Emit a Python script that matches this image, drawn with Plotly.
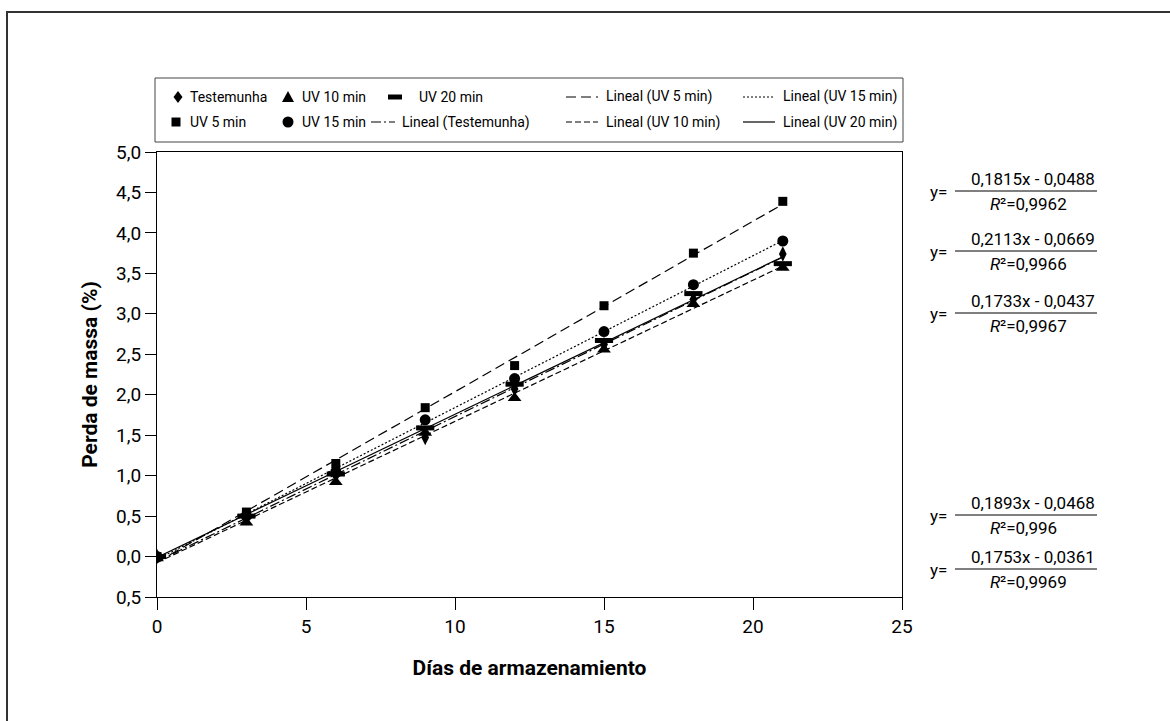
import numpy as np
import plotly.graph_objects as go

# ---------------- data ----------------
dias = [0, 3, 6, 9, 12, 15, 18, 21]
testemunha = [0.00, 0.48, 1.00, 1.47, 2.07, 2.62, 3.18, 3.74]
uv5 = [0.00, 0.55, 1.15, 1.84, 2.36, 3.10, 3.75, 4.39]
uv10 = [-0.02, 0.42, 0.92, 1.53, 1.96, 2.56, 3.12, 3.57]
uv15 = [0.00, 0.50, 1.05, 1.69, 2.20, 2.78, 3.36, 3.90]
uv20 = [0.00, 0.50, 1.02, 1.59, 2.13, 2.67, 3.25, 3.62]

x_ticks = [0, 5, 10, 15, 20, 25]
y_tickvals = [-0.5, 0, 0.5, 1.0, 1.5, 2.0, 2.5, 3.0, 3.5, 4.0, 4.5, 5.0]
y_ticktext = ["0,5", "0,0", "0,5", "1,0", "1,5", "2,0", "2,5", "3,0", "3,5", "4,0", "4,5", "5,0"]

eq_numerators = ["0,1815x - 0,0488", "0,2113x - 0,0669", "0,1733x - 0,0437",
                 "0,1893x - 0,0468", "0,1753x - 0,0361"]
eq_r2 = ["0,9962", "0,9966", "0,9967", "0,996", "0,9969"]

FONT = "Roboto, Liberation Sans, sans-serif"

# ---------------- layout geometry (pixels) ----------------
W, H = 1170, 721
PL, PR, PT, PB = 157, 902, 152, 597


def px(xp):
    return (xp - PL) / (PR - PL)


def py(yp):
    return (PB - yp) / (PB - PT)


fig = go.Figure()

# trend lines (least squares fits of each series)
fit_x = [dias[0], dias[-1]]
DASH = {
    "uv5": "10px,5px",
    "uv15": "2px,2px",
    "test": "10px,3px,2px,3px",
    "uv10": "6px,3px",
    "uv20": "solid",
}
trend_specs = [
    ("Lineal (UV 5 min)", uv5, DASH["uv5"]),
    ("Lineal (UV 15 min)", uv15, DASH["uv15"]),
    ("Lineal (Testemunha)", testemunha, DASH["test"]),
    ("Lineal (UV 10 min)", uv10, DASH["uv10"]),
    ("Lineal (UV 20 min)", uv20, DASH["uv20"]),
]
for name, ys, dash in trend_specs:
    coef = np.polyfit(dias, ys, 1)
    fit_y = np.polyval(coef, fit_x)
    fig.add_trace(go.Scatter(
        x=fit_x, y=fit_y, mode="lines", name=name, showlegend=False,
        line=dict(color="black", width=1.2, dash=dash), hoverinfo="skip"))

# markers
marker_specs = [
    ("Testemunha", testemunha, dict(symbol="diamond-tall", size=11, color="black")),
    ("UV 10 min", uv10, dict(symbol="triangle-up", size=12, color="black")),
    ("UV 20 min", uv20, dict(symbol="line-ew", size=13, color="black",
                             line=dict(color="black", width=5))),
    ("UV 5 min", uv5, dict(symbol="square", size=9, color="black")),
    ("UV 15 min", uv15, dict(symbol="circle", size=11, color="black")),
]
for name, ys, mk in marker_specs:
    fig.add_trace(go.Scatter(x=dias, y=ys, mode="markers", name=name,
                             marker=mk, showlegend=False))

shapes = []
annotations = []
LEGFONT = dict(family=FONT, size=14, color="black")


def add_text(text, xp, yp, font, xanchor="left"):
    annotations.append(dict(text=text, x=px(xp), y=py(yp), xref="paper", yref="paper",
                            showarrow=False, xanchor=xanchor, yanchor="middle",
                            font=font, borderpad=0))


def legend_line(x0, x1, yp, dash):
    shapes.append(dict(type="line", xref="paper", yref="paper",
                       x0=px(x0), x1=px(x1), y0=py(yp), y1=py(yp),
                       line=dict(color="black", width=1.2, dash=dash)))


def legend_path(path, xp, yp):
    shapes.append(dict(type="path", xref="paper", yref="paper",
                       xsizemode="pixel", ysizemode="pixel",
                       xanchor=px(xp), yanchor=py(yp), path=path,
                       fillcolor="black", line=dict(color="black", width=0)))


def legend_box(kind, xp, yp, hw, hh):
    shapes.append(dict(type=kind, xref="paper", yref="paper",
                       xsizemode="pixel", ysizemode="pixel",
                       xanchor=px(xp), yanchor=py(yp),
                       x0=-hw, x1=hw, y0=-hh, y1=hh,
                       fillcolor="black", line=dict(color="black", width=0)))


# ---------------- manual legend ----------------
R1, R2 = 97, 122
legend_path("M0,6 L4.5,0 L0,-6 L-4.5,0 Z", 178, R1)
add_text("Testemunha", 189, R1, LEGFONT)
legend_box("rect", 176, R2, 4.5, 4.5)
add_text("UV 5 min", 189, R2, LEGFONT)

legend_path("M-6,-5 L6,-5 L0,6 Z", 288, R1)
add_text("UV 10 min", 301, R1, LEGFONT)
legend_box("circle", 288, R2, 5.5, 5.5)
add_text("UV 15 min", 301, R2, LEGFONT)

legend_box("rect", 395, R1, 7, 2.5)
add_text("UV 20 min", 418, R1, LEGFONT)
legend_line(371, 395, R2, DASH["test"])
add_text("Lineal (Testemunha)", 401, R2, LEGFONT)

legend_line(566, 598, R1, DASH["uv5"])
add_text("Lineal (UV 5 min)", 605, R1, LEGFONT)
legend_line(566, 598, R2, DASH["uv10"])
add_text("Lineal (UV 10 min)", 605, R2, LEGFONT)

legend_line(743, 775, R1, DASH["uv15"])
add_text("Lineal (UV 15 min)", 782, R1, LEGFONT)
legend_line(743, 775, R2, DASH["uv20"])
add_text("Lineal (UV 20 min)", 782, R2, LEGFONT)

# outer frame (top and left visible)
shapes.append(dict(type="rect", xref="paper", yref="paper",
                   x0=px(7), x1=px(1185), y0=py(12), y1=py(735),
                   line=dict(color="#333333", width=2)))
# legend box
shapes.append(dict(type="rect", xref="paper", yref="paper",
                   x0=px(155), x1=px(903), y0=py(78), y1=py(142),
                   line=dict(color="#444444", width=1)))

# equations on the right
EQFONT = dict(family=FONT, size=17, color="black")
EQFONT_I = dict(family=FONT, size=17, color="black", style="italic")
eq_rows = [(179, 191, 204), (239, 251, 264), (301, 313, 326),
           (503, 515, 528), (557, 569, 582)]
for (ny, ly, dy), num, r2 in zip(eq_rows, eq_numerators, eq_r2):
    shapes.append(dict(type="line", xref="paper", yref="paper",
                       x0=px(955), x1=px(1097), y0=py(ly), y1=py(ly),
                       line=dict(color="black", width=1)))
    add_text("y=", 938, ly + 1, EQFONT, xanchor="center")
    add_text(num, 1033, ny, EQFONT, xanchor="center")
    add_text("R", 1002, dy, EQFONT_I, xanchor="right")
    add_text("²=" + r2, 999, dy, EQFONT, xanchor="left")

fig.update_layout(
    width=W, height=H,
    margin=dict(l=PL, r=W - PR, t=PT, b=H - PB),
    paper_bgcolor="white", plot_bgcolor="white",
    font=dict(family=FONT, color="black"),
    showlegend=False,
    shapes=shapes, annotations=annotations,
)

fig.update_xaxes(
    range=[0, 25], tickvals=x_ticks, ticktext=[str(v) for v in x_ticks],
    showgrid=False, zeroline=False,
    showline=True, linecolor="black", linewidth=1, mirror=True,
    ticks="outside", ticklen=12, tickcolor="black", tickwidth=1,
    tickfont=dict(family=FONT, size=19, color="black"),
    title=dict(text="Días de armazenamiento", standoff=23,
               font=dict(family=FONT, size=21, color="black", weight="bold")),
)
fig.update_yaxes(
    range=[-0.5, 5.0], tickvals=y_tickvals, ticktext=y_ticktext,
    showgrid=False, zeroline=False,
    showline=True, linecolor="black", linewidth=1, mirror=True,
    ticks="outside", ticklen=11, tickcolor="black", tickwidth=1,
    tickfont=dict(family=FONT, size=19, color="black"),
    title=dict(text="Perda de massa (%)", standoff=12,
               font=dict(family=FONT, size=21, color="black", weight="bold")),
)

fig.write_html("out.html")
